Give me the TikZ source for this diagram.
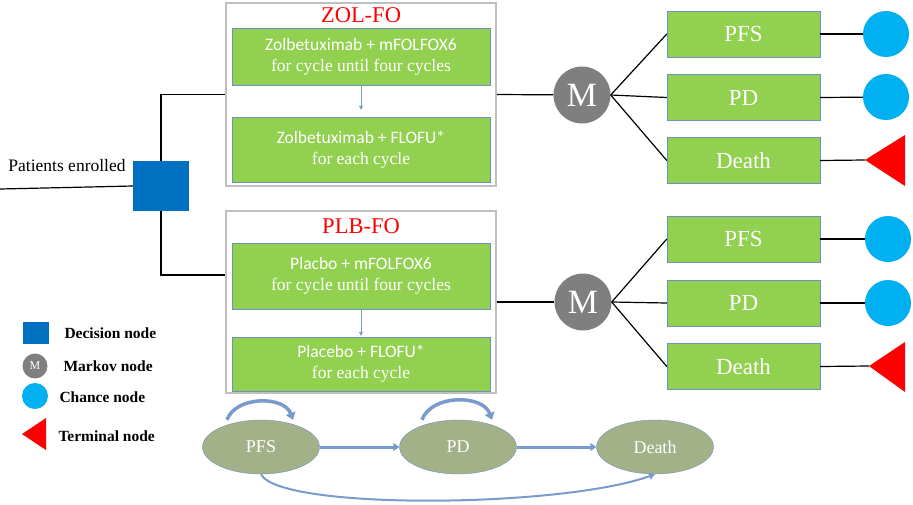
\documentclass[tikz,border=0pt]{standalone}
\usepackage{fontspec}
\setmainfont{Liberation Serif}
\newfontfamily\carlito{Carlito}
\usetikzlibrary{arrows.meta,shapes.geometric}
\definecolor{boxgreen}{RGB}{146,208,80}
\definecolor{boxedge}{RGB}{110,145,195}
\definecolor{decblue}{RGB}{0,112,192}
\definecolor{chanceblue}{RGB}{0,176,240}
\definecolor{markovgray}{RGB}{127,127,127}
\definecolor{stategreen}{RGB}{163,177,136}
\definecolor{flowblue}{RGB}{120,155,205}
\begin{document}
\begin{tikzpicture}[x=1pt,y=-1pt,
    armbox/.style={draw=gray!50,line width=1.8pt,minimum width=270pt},
    armtitle/.style={text=red,font=\fontsize{22.5}{22.5}\selectfont},
    treatbox/.style={draw=boxedge,fill=boxgreen,text=white,minimum width=258pt,align=center,font=\fontsize{17.5}{21}\selectfont},
    healthbox/.style={draw=boxedge,fill=boxgreen,text=white,minimum width=153pt,minimum height=46pt,font=\fontsize{23}{23}\selectfont},
    markovnode/.style={circle,fill=markovgray,text=white,inner sep=0pt},
    chancenode/.style={circle,fill=chanceblue,inner sep=0pt},
    statenode/.style={ellipse,draw=boxedge,fill=stategreen,text=white,minimum width=117pt,minimum height=54pt,inner sep=0pt,font=\fontsize{18}{18}\selectfont},
    legendtext/.style={anchor=west,font=\fontsize{15.5}{15.5}\selectfont\bfseries},
    branch/.style={line width=1.2pt},
    flow/.style={draw=flowblue,line width=3pt,-{Triangle[length=6pt,width=8pt]}},
    loopflow/.style={draw=flowblue,line width=3.5pt,-{Triangle[length=7pt,width=10pt]}},
]
\useasboundingbox (0,0) rectangle (913,504);
\node[fill=decblue,minimum width=56pt,minimum height=50pt] (dec) at (161,186) {};
\node[font=\fontsize{17.5}{17.5}\selectfont] (enrol) at (67,166) {Patients enrolled};
\coordinate (start) at (0,189);
\draw[branch] (start) -- (dec.west);
\node[armbox,minimum height=183pt] (zol) at (361,94.5) {};
\node[armbox,minimum height=182pt] (plb) at (361,302) {};
\node[armtitle] (zoltitle) at (361,15) {ZOL-FO};
\node[armtitle] (plbtitle) at (361,226) {PLB-FO};
\node[treatbox,minimum height=57pt] (zol1) at (361,56.5) {{\carlito\fontsize{17.5}{21}\selectfont Zolbetuximab + mFOLFOX6}\\for cycle until four cycles};
\node[treatbox,minimum height=65pt] (zol2) at (361,149.5) {{\carlito\fontsize{17.5}{21}\selectfont Zolbetuximab + FLOFU*}\\for each cycle};
\node[treatbox,minimum height=66pt] (plb1) at (361,276) {{\carlito\fontsize{17.5}{21}\selectfont Placbo + mFOLFOX6}\\for cycle until four cycles};
\node[treatbox,minimum height=54pt] (plb2) at (361,364) {{\carlito\fontsize{17.5}{21}\selectfont Placebo + FLOFU*}\\for each cycle};
\draw[draw=flowblue,line width=0.6pt,-{Triangle[length=4pt,width=4pt]},shorten >=7pt] (zol1) -- (zol2);
\draw[draw=flowblue,line width=0.6pt,-{Triangle[length=4pt,width=4pt]},shorten >=1pt] (plb1) -- (plb2);
\draw[branch] (dec.north) |- (zol.west);
\draw[branch] (dec.south) |- ([yshift=27pt]plb.west);
\node[markovnode,minimum size=57pt,font=\fontsize{34}{34}\selectfont] (m1) at (582,95) {M};
\node[markovnode,minimum size=57pt,font=\fontsize{34}{34}\selectfont] (m2) at (583,302) {M};
\draw[branch] (zol.east) -- (m1);
\draw[branch] (plb.east) -- (m2);
\node[healthbox] (pfs1) at (743.5,34) {PFS};
\node[healthbox] (pd1) at (743.5,97.5) {PD};
\node[healthbox] (death1) at (743.5,160.5) {Death};
\node[healthbox] (pfs2) at (743.5,239) {PFS};
\node[healthbox] (pd2) at (743.5,303) {PD};
\node[healthbox] (death2) at (743.5,366.5) {Death};
\node[chancenode,minimum size=46pt] (c1) at (886,34) {};
\node[chancenode,minimum size=46pt] (c2) at (886,97) {};
\node[chancenode,minimum size=46pt] (c3) at (888,239) {};
\node[chancenode,minimum size=46pt] (c4) at (888,303) {};
\coordinate (end1) at (865,160);
\coordinate (end2) at (869,366);
\fill[red] (end1) -- (905,135) -- (905,186) -- cycle;
\fill[red] (end2) -- (905,342) -- (905,392) -- cycle;
\foreach \m/\a/\b/\c/\d in {m1/pfs1/pd1/death1/1,m2/pfs2/pd2/death2/2} {
  \draw[branch] (\m.east) -- (\a.west);
  \draw[branch] (\m.east) -- (\b.west);
  \draw[branch] (\m.east) -- (\c.west);
  \draw[branch] (\c.east) -- (end\d);
}
\draw[branch] (pfs1.east) -- (c1);
\draw[branch] (pd1.east) -- (c2);
\draw[branch] (pfs2.east) -- (c3);
\draw[branch] (pd2.east) -- (c4);
\node[fill=decblue,minimum width=26pt,minimum height=22pt] (keydec) at (36,333) {};
\node[markovnode,minimum size=25pt,font=\fontsize{12}{12}\selectfont] (keymarkov) at (35,366) {M};
\node[chancenode,minimum size=26pt] (keychance) at (35,396) {};
\coordinate (keyend) at (22,434);
\fill[red] (keyend) -- (46,418) -- (46,450) -- cycle;
\node[legendtext] (keydectext) at (61,333) {Decision node};
\node[legendtext] (keymarkovtext) at (60,366) {Markov node};
\node[legendtext] (keychancetext) at (56,397) {Chance node};
\node[legendtext] (keyendtext) at (55,436) {Terminal node};
\node[statenode] (spfs) at (261,447) {PFS};
\node[statenode] (spd) at (458,447) {PD};
\node[statenode] (sdeath) at (655,447) {Death};
\draw[flow] (spfs) -- (spd);
\draw[flow] (spd) -- (sdeath);
\draw[loopflow] ([xshift=-34pt]spfs.north) to[out=70,in=110] ([xshift=32pt]spfs.north);
\draw[loopflow] ([xshift=-36pt]spd.north) to[out=70,in=110] ([xshift=34pt]spd.north);
\draw[draw=flowblue,line width=2pt,-{Triangle[length=6pt,width=7pt]}] (spfs.south) .. controls +(18,36) and +(-95,34) .. (sdeath.south);
\end{tikzpicture}
\end{document}
